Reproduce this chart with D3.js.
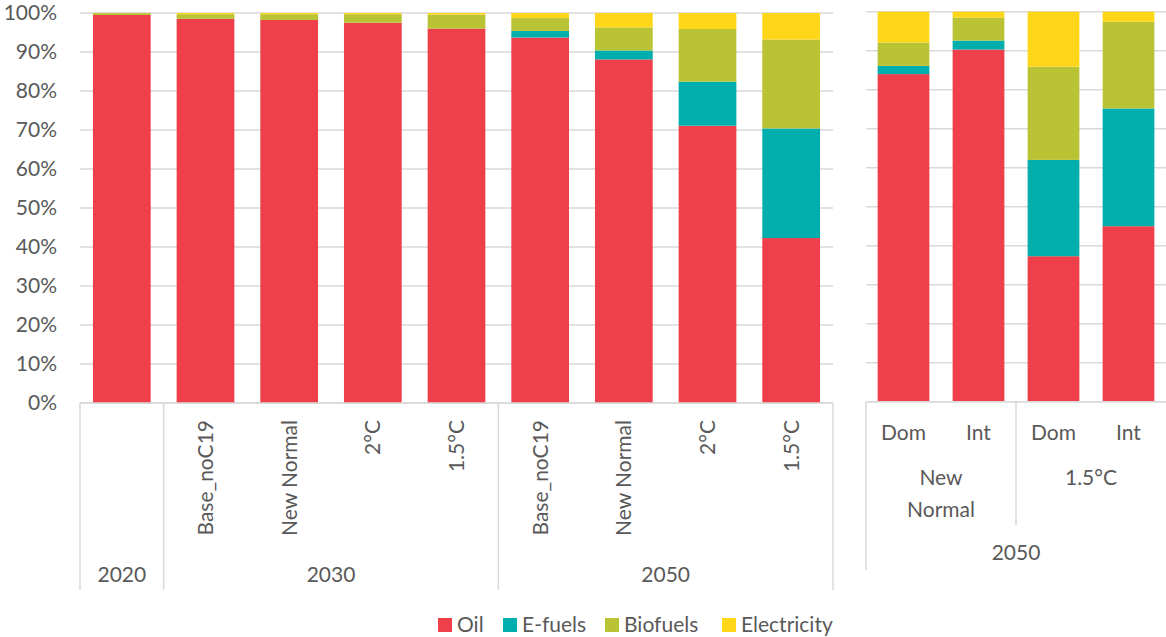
<!DOCTYPE html>
<html>
<head>
<meta charset="utf-8">
<script src="https://cdn.jsdelivr.net/npm/d3@7/dist/d3.min.js"></script>
<style>
  html, body { margin: 0; padding: 0; background: #fff; }
  svg text { font-family: Lato, "Liberation Sans", sans-serif; fill: #595959; }
</style>
</head>
<body>
<svg id="chart" width="1166" height="637"></svg>
<script>
// ---- Data ----
const seriesNames = ["Oil", "E-fuels", "Biofuels", "Electricity"];
const seriesColors = ["#EF3F4A", "#00AEAE", "#B9C334", "#FFD618"];

// Left panel
const leftCategories = ["2020", "Base_noC19", "New Normal", "2°C", "1.5°C", "Base_noC19", "New Normal", "2°C", "1.5°C"];
const leftGroups = ["2020", "2030", "2030", "2030", "2030", "2050", "2050", "2050", "2050"];
const leftOil         = [99.5, 98.5, 98.2, 97.5, 96.0, 93.7, 88.1, 71.1, 42.3];
const leftEfuels      = [0.0, 0.0, 0.0, 0.0, 0.0, 1.7, 2.3, 11.3, 28.1];
const leftBiofuels    = [0.5, 1.2, 1.5, 2.2, 3.6, 3.3, 5.9, 13.5, 22.8];
const leftElectricity = [0.0, 0.3, 0.3, 0.3, 0.4, 1.3, 3.7, 4.1, 6.8];

// Right panel
const rightCategories = ["Dom", "Int", "Dom", "Int"];
const rightScenarios = ["New Normal", "New Normal", "1.5°C", "1.5°C"];
const rightYear = "2050";
const rightOil         = [84.0, 90.3, 37.3, 45.0];
const rightEfuels      = [2.1, 2.3, 24.7, 30.2];
const rightBiofuels    = [6.0, 5.9, 23.9, 22.2];
const rightElectricity = [7.9, 1.5, 14.1, 2.6];

const yTicks = [0, 10, 20, 30, 40, 50, 60, 70, 80, 90, 100];

// ---- Build rows ----
function rows(cats, oil, ef, bio, el) {
  return cats.map((c, i) => ({ idx: i, cat: c, "Oil": oil[i], "E-fuels": ef[i], "Biofuels": bio[i], "Electricity": el[i] }));
}
const leftRows = rows(leftCategories, leftOil, leftEfuels, leftBiofuels, leftElectricity);
const rightRows = rows(rightCategories, rightOil, rightEfuels, rightBiofuels, rightElectricity);

const svg = d3.select("#chart");
const color = d3.scaleOrdinal().domain(seriesNames).range(seriesColors);
const stack = d3.stack().keys(seriesNames);
const gridColor = "#d9d9d9";
const fs = 21;

function drawPanel(opts) {
  const { data, x0, x1, yTop, yBot } = opts;
  const x = d3.scaleBand().domain(data.map(d => d.idx)).range([x0, x1]).paddingInner(0.31).paddingOuter(0.155);
  const y = d3.scaleLinear().domain([0, 100]).range([yBot, yTop]);
  const g = svg.append("g");
  // gridlines
  g.append("g").selectAll("line").data(yTicks).join("line")
    .attr("x1", x0).attr("x2", x1)
    .attr("y1", d => y(d)).attr("y2", d => y(d))
    .attr("stroke", gridColor).attr("stroke-width", 1.5);
  // bars
  const layers = stack(data);
  g.append("g").selectAll("g").data(layers).join("g")
    .attr("fill", d => color(d.key))
    .selectAll("rect").data(d => d).join("rect")
    .attr("x", d => x(d.data.idx))
    .attr("width", x.bandwidth())
    .attr("y", d => y(d[1]))
    .attr("height", d => Math.max(0, y(d[0]) - y(d[1])));
  // axis baseline
  g.append("line").attr("x1", x0).attr("x2", x1).attr("y1", yBot).attr("y2", yBot)
    .attr("stroke", gridColor).attr("stroke-width", 1.5);
  return { x, y, g };
}

// Left panel
const L = drawPanel({ data: leftRows, x0: 80, x1: 833, yTop: 13, yBot: 403 });
// Y axis labels
const yAxis = d3.axisLeft(L.y).tickValues(yTicks).tickFormat(d => d + "%").tickSize(0).tickPadding(0);
const ya = svg.append("g").attr("transform", "translate(57,0)").call(yAxis);
ya.select(".domain").remove();
ya.selectAll("text").attr("font-size", fs).attr("fill", "#595959")
  .style("font-family", "Lato, 'Liberation Sans', sans-serif");

// Left category labels (rotated)
svg.append("g").selectAll("text").data(leftRows.filter(d => d.idx > 0)).join("text")
  .attr("transform", d => `translate(${L.x(d.idx) + L.x.bandwidth() / 2},420) rotate(-90)`)
  .attr("text-anchor", "end").attr("dy", "0.35em")
  .attr("font-size", fs).text(d => d.cat);

// Left group separators & labels
const groupInfo = [];
leftGroups.forEach((gname, i) => {
  const last = groupInfo[groupInfo.length - 1];
  if (last && last.name === gname) last.end = i; else groupInfo.push({ name: gname, start: i, end: i });
});
const step = L.x.step();
const bandStart = i => L.x(i) - step * L.x.paddingInner() / 2;
const sepX = [bandStart(0)];
groupInfo.forEach(gi => sepX.push(bandStart(gi.end) + step));
svg.append("g").selectAll("line").data(sepX).join("line")
  .attr("x1", d => d).attr("x2", d => d).attr("y1", 403).attr("y2", 590)
  .attr("stroke", gridColor).attr("stroke-width", 1.5);
svg.append("g").selectAll("text").data(groupInfo).join("text")
  .attr("x", d => (bandStart(d.start) + bandStart(d.end) + step) / 2)
  .attr("y", 575).attr("dy", "0.35em").attr("text-anchor", "middle")
  .attr("font-size", fs).text(d => d.name);

// Right panel
const R = drawPanel({ data: rightRows, x0: 866, x1: 1166, yTop: 11.7, yBot: 401.7 });
const rStep = R.x.step();
const rBandStart = i => R.x(i) - rStep * R.x.paddingInner() / 2;
svg.append("g").selectAll("text").data(rightRows).join("text")
  .attr("x", d => R.x(d.idx) + R.x.bandwidth() / 2)
  .attr("y", 433).attr("dy", "0.35em").attr("text-anchor", "middle")
  .attr("font-size", fs).text(d => d.cat);
const scen = [];
rightScenarios.forEach((s, i) => {
  const last = scen[scen.length - 1];
  if (last && last.name === s) last.end = i; else scen.push({ name: s, start: i, end: i });
});
const scenG = svg.append("g").selectAll("text").data(scen).join("text")
  .attr("text-anchor", "middle").attr("font-size", fs)
  .attr("transform", d => `translate(${(rBandStart(d.start) + rBandStart(d.end) + rStep) / 2},478)`);
scenG.each(function(d) {
  const words = d.name === "New Normal" ? ["New", "Normal"] : [d.name];
  d3.select(this).selectAll("tspan").data(words).join("tspan")
    .attr("x", 0).attr("y", (w, i) => i * 32).attr("dy", "0.35em").text(w => w);
});
// right separators
svg.append("line").attr("x1", 866).attr("x2", 866).attr("y1", 401.7).attr("y2", 570)
  .attr("stroke", gridColor).attr("stroke-width", 1.5);
svg.append("line").attr("x1", rBandStart(2)).attr("x2", rBandStart(2)).attr("y1", 401.7).attr("y2", 525)
  .attr("stroke", gridColor).attr("stroke-width", 1.5);
svg.append("text").attr("x", (866 + 1166) / 2).attr("y", 553).attr("dy", "0.35em")
  .attr("text-anchor", "middle").attr("font-size", fs).text(rightYear);

// Legend
const legendX = [438, 503, 605, 722];
const lg = svg.append("g").selectAll("g").data(seriesNames).join("g")
  .attr("transform", (d, i) => `translate(${legendX[i]},625)`);
lg.append("rect").attr("x", 0).attr("y", -7).attr("width", 14).attr("height", 14).attr("fill", d => color(d));
lg.append("text").attr("x", 19).attr("dy", "0.35em").attr("font-size", fs).text(d => d);
</script>
</body>
</html>
